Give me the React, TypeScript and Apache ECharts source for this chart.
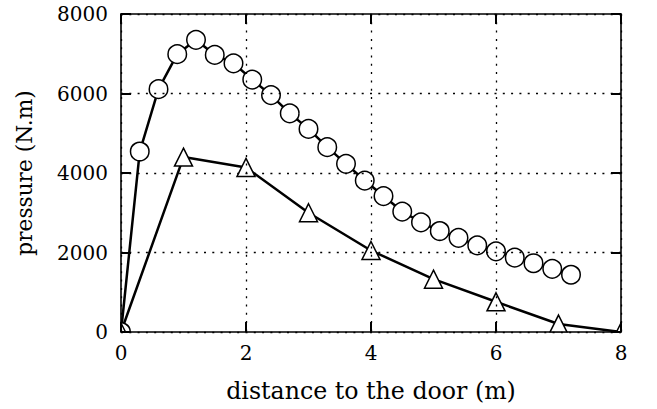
import React, { useEffect, useRef } from "react";
import * as echarts from "echarts";

const xCircle = [0, 0.3, 0.6, 0.9, 1.2, 1.5, 1.8, 2.1, 2.4, 2.7, 3.0, 3.3, 3.6, 3.9, 4.2, 4.5, 4.8, 5.1, 5.4, 5.7, 6.0, 6.3, 6.6, 6.9, 7.2];
const yCircle = [0, 4540, 6110, 6990, 7350, 6970, 6760, 6350, 5960, 5500, 5110, 4650, 4230, 3810, 3420, 3030, 2760, 2540, 2370, 2180, 2030, 1870, 1730, 1590, 1440];
const xTriangle = [0, 1, 2, 3, 4, 5, 6, 7, 8];
const yTriangle = [0, 4400, 4140, 3000, 2050, 1330, 760, 200, 0];

const xName = "distance to the door (m)";
const yName = "pressure (N.m)";

const FONT = "DejaVu Serif";

export default function App() {
  const ref = useRef<HTMLDivElement>(null);
  useEffect(() => {
    if (!ref.current) return;
    const chart = echarts.init(ref.current, undefined, { renderer: "svg" });
    const gridL = 121, gridR = 36, gridT = 14, gridB = 77;
    const W = 657, H = 409;
    const dotted = () => ({ color: "#000", width: 1.3, type: [2, 6.3] as any });
    const tickStyle = () => ({ show: true, inside: true, length: 10, lineStyle: { color: "#000", width: 2 } });
    const axisLine = () => ({ show: true, onZero: false, lineStyle: { color: "#000", width: 1.6 } });
    const fmt = (v: number) => String(v);
    chart.setOption({
      animation: false,
      grid: { left: gridL, right: gridR, top: gridT, bottom: gridB, containLabel: false },
      xAxis: [
        {
          type: "value", min: 0, max: 8, interval: 2, position: "bottom", z: 10,
          axisLine: axisLine(), axisTick: tickStyle(),
          axisLabel: { margin: 11, color: "#000", fontFamily: FONT, fontSize: 20, formatter: fmt },
          splitLine: { show: true, lineStyle: dotted() },
          name: xName, nameLocation: "middle", nameGap: 47,
          nameTextStyle: { color: "#000", fontFamily: FONT, fontSize: 23.7 },
        },
        {
          type: "value", min: 0, max: 8, interval: 2, position: "top", z: 10,
          axisLine: axisLine(), axisTick: tickStyle(), axisLabel: { show: false }, splitLine: { show: false },
        },
      ],
      yAxis: [
        {
          type: "value", min: 0, max: 8000, interval: 2000, position: "left", z: 10,
          axisLine: axisLine(), axisTick: tickStyle(),
          axisLabel: { margin: 13, color: "#000", fontFamily: FONT, fontSize: 20, formatter: fmt },
          splitLine: { show: true, lineStyle: dotted() },
          name: yName, nameLocation: "middle", nameGap: 86, nameRotate: 90,
          nameTextStyle: { color: "#000", fontFamily: FONT, fontSize: 21.7 },
        },
        {
          type: "value", min: 0, max: 8000, interval: 2000, position: "right", z: 10,
          axisLine: axisLine(), axisTick: tickStyle(), axisLabel: { show: false }, splitLine: { show: false },
        },
      ],
      graphic: [
        { type: "rect", z: 5, silent: true, shape: { x: 0, y: 0, width: gridL - 0.5, height: H }, style: { fill: "#fff" } },
        { type: "rect", z: 5, silent: true, shape: { x: 0, y: H - gridB + 0.5, width: W, height: gridB }, style: { fill: "#fff" } },
        { type: "rect", z: 5, silent: true, shape: { x: W - gridR + 0.5, y: 0, width: gridR, height: H }, style: { fill: "#fff" } },
      ],
      series: [
        {
          type: "line", z: 3, xAxisIndex: 0, yAxisIndex: 0,
          data: xCircle.map((x, i) => [x, yCircle[i]]),
          symbol: "circle", symbolSize: 18.5, showAllSymbol: true,
          lineStyle: { color: "#000", width: 2.5 },
          itemStyle: { color: "#fff", borderColor: "#000", borderWidth: 1.5 },
          clip: false,
        },
        {
          type: "line", z: 3, xAxisIndex: 0, yAxisIndex: 0,
          data: xTriangle.map((x, i) => [x, yTriangle[i]]),
          symbol: "triangle", symbolSize: 18, showAllSymbol: true,
          lineStyle: { color: "#000", width: 2.5 },
          itemStyle: { color: "#fff", borderColor: "#000", borderWidth: 1.5 },
          clip: false,
        },
      ],
    });
    return () => chart.dispose();
  }, []);
  return <div ref={ref} style={{ width: 657, height: 409, position: "absolute", left: 0, top: 0 }} />;
}
